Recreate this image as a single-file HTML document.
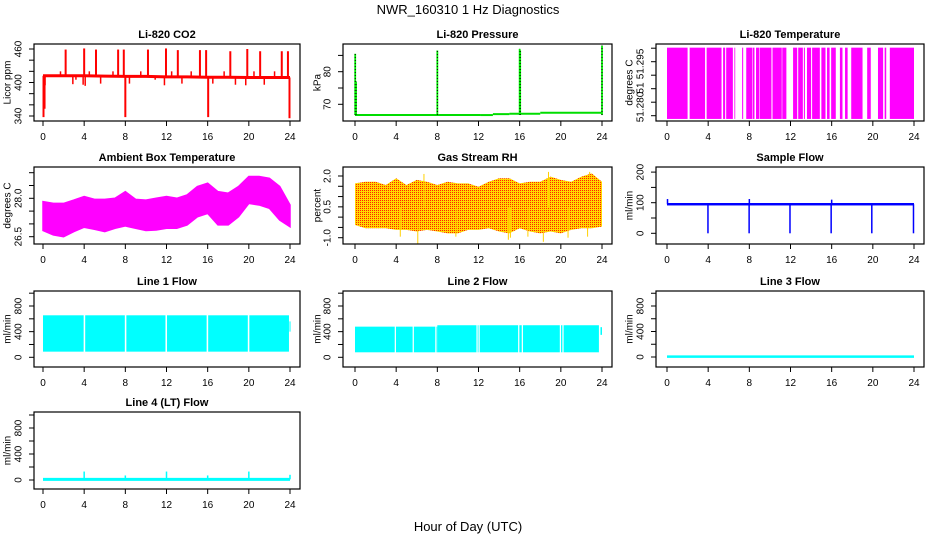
<!DOCTYPE html>
<html><head><meta charset="utf-8"><style>
html,body{margin:0;padding:0;background:#fff;}
svg{display:block;font-family:"Liberation Sans",Arial,sans-serif;}
</style></head><body>
<svg id="chart" width="936" height="540" viewBox="0 0 936 540" xmlns="http://www.w3.org/2000/svg">
<defs>
<pattern id="rhpat" width="2" height="2" patternUnits="userSpaceOnUse">
<rect width="2" height="2" fill="#ffd800"/><rect width="1" height="1" fill="#ff2000"/>
</pattern>
</defs>
<text x="468" y="14" text-anchor="middle" font-size="13">NWR_160310  1 Hz Diagnostics</text>
<text x="468" y="531" text-anchor="middle" font-size="13">Hour of Day (UTC)</text>
</svg>
<script>
// ---- data ----
const xTicks=[0,4,8,12,16,20,24];
const co2BaseHours=[0,2,4,6,8,10,12,14,16,18,20,22,24];
const co2BaseVals=[412,412,412,411.5,411,411,410,410,409.5,409.5,409,409,409];
const co2SpikeHours=[2.2,4.0,5.15,7.3,7.85,10.2,11.95,13.1,15.25,15.85,18.2,19.85,21.1,23.2,23.8,0.05,8.0,16.05,23.95,1.7,2.9,3.2,4.5,5.6,6.8,8.4,9.5,10.9,11.8,12.5,13.5,14.4,16.5,17.6,18.7,19.7,20.5,21.5,22.5,0.2,0.15,3.9,4.1];
const co2SpikeVals=[459,461,459,459,459,459,461,458,458,458,456,460,456,456,456,338,338,338,336,420,397,405,420,398,420,398,420,405,395,420,398,420,398,420,396,395,420,396,420,395,353,396,394];
const pressStepHours=[0,12.2,13.4,15,18,24];
const pressStepVals=[66.7,66.7,67.0,67.1,67.4];
const pressSpikeHours=[0.02,0.1,8.0,16.0,16.05,24.0];
const pressSpikeVals=[85.5,77,86.5,87,86.5,88];
const tempIntervals=[[0,2.0],[2.2,3.7],[3.85,5.3],[5.45,5.65],[5.75,6.4],[6.55,6.6],[7.3,7.4],[7.7,8.3],[8.35,8.5],[8.65,8.95],[9.0,10.15],[10.25,11.15],[11.2,11.6],[12.25,12.65],[12.75,13.2],[13.3,13.4],[13.6,14.0],[14.1,14.85],[15.0,15.4],[15.55,15.8],[15.95,16.4],[16.8,17.05],[17.3,17.55],[17.9,19.0],[19.45,19.8],[20.5,21.0],[21.15,21.3],[21.65,24.0]];
const tempLow=51.2791, tempHigh=51.2989;
const ambHours=[0,1,2,3,4,5,6,7,8,9,10,11,12,13,14,15,16,17,18,19,20,21,22,23,24];
const ambTop=[27.87,27.80,27.80,27.93,28.07,27.96,27.96,28.00,28.26,27.96,27.93,28.00,28.07,28.00,28.13,28.46,28.59,28.26,28.20,28.46,28.85,28.85,28.78,28.46,27.74];
const ambBot=[26.74,26.57,26.50,26.70,26.87,26.79,26.70,26.83,26.92,26.83,26.74,26.76,26.83,26.83,26.96,27.28,27.41,26.96,26.96,27.28,27.80,27.74,27.61,27.15,26.89];
const rhTop=[1.64,1.72,1.72,1.56,1.89,1.56,1.81,1.72,1.56,1.72,1.64,1.64,1.48,1.72,1.89,1.89,1.64,1.72,1.72,1.97,1.81,1.72,1.97,2.13,1.72];
const rhBot=[-0.38,-0.54,-0.54,-0.54,-0.62,-0.62,-0.70,-0.62,-0.70,-0.79,-0.79,-0.62,-0.62,-0.54,-0.70,-0.79,-0.54,-0.70,-0.79,-0.70,-0.79,-0.62,-0.54,-0.54,-0.46];
const rhSpikeHours=[6.1,4.4,14.9,18.3,20.7,22.6,15.1,16.8,9.8,18.8,22.8,6.7];
const rhSpikeVals=[-1.3,-0.95,-1.1,-1.2,-1.0,-0.95,-1.0,-0.95,-0.95,2.2,2.2,2.1];
const sfBandLow=91, sfBandHigh=99;
const sfSpikeHours=[3.98,7.98,11.95,15.95,19.9,23.95,0.05,8.0,16.0];
const sfSpikeVals=[0,0,0,0,0,0,112,112,110];
const l1Low=88, l1High=655;
const l1Gaps=[3.95,7.95,11.9,15.9,19.9];
const l2SegHours=[0,8,24];
const l2SegTop=[478,500];
const l2Low=78;
const l2Gaps=[3.86,5.6,7.8,11.8,12.0,15.85,16.2,19.9,20.15,23.7];
const l3Base=5;
const l4Base=10;
const l4SpikeHours=[4,8,12,16,20,24];
const l4SpikeVals=[130,70,130,70,130,80];

// ---- layout ----
const svg=document.getElementById('chart');
const NS='http://www.w3.org/2000/svg';
const cols=[{L:34,R:300,x0:43,x24:290,tl:19,yl:8},{L:343,R:612,x0:355,x24:602,tl:328,yl:318},{L:656,R:924,x0:667,x24:914,tl:641,yl:630}];
const rows=[{T:44,B:121},{T:167,B:244},{T:291,B:367},{T:412,B:489}];
function mk(tag,attrs,parent){const e=document.createElementNS(NS,tag);for(const k in attrs)e.setAttribute(k,attrs[k]);(parent||svg).appendChild(e);return e;}

function panel(name,c,r,title,ylab,v1,p1,v2,p2,yticks,ylabels){
  const col=cols[c],row=rows[r];
  const g=mk('g',{});
  
  
  const X=h=>col.x0+(h/24)*(col.x24-col.x0);
  const Y=v=>p1+(v-v1)*(p2-p1)/(v2-v1);
  const t=mk('text',{x:(col.L+col.R)/2,y:row.T-6,'text-anchor':'middle','font-size':11,'font-weight':'bold'},g);
  t.textContent=title;
  
  
  const yl=mk('text',{x:col.yl,y:(row.T+row.B)/2,'text-anchor':'middle','font-size':10,transform:`rotate(-90 ${col.yl} ${(row.T+row.B)/2})`,'dominant-baseline':'middle'},g);
  yl.textContent=ylab;
  
  
  const plot=mk('g',{},g);
  
  
  const cp='clip'+name;
  const cl=mk('clipPath',{id:cp},g);
  mk('rect',{x:col.L,y:row.T,width:col.R-col.L,height:row.B-row.T},cl);
  plot.setAttribute('clip-path',`url(#${cp})`);
  xTicks.forEach(h=>{
    const tk=mk('line',{x1:X(h),x2:X(h),y1:row.B,y2:row.B+5,stroke:'#000'},g);
    
    
    const tl=mk('text',{x:X(h),y:row.B+19,'text-anchor':'middle','font-size':10},g);
    tl.textContent=h;
    
    
  });
  yticks.forEach(v=>{
    const tk=mk('line',{x1:col.L-5,x2:col.L,y1:Y(v),y2:Y(v),stroke:'#000'},g);
    
    
  });
  ylabels.forEach(([v,s])=>{
    const yy=Y(v);
    const tl=mk('text',{x:col.tl,y:yy,'text-anchor':'middle','font-size':10,'dominant-baseline':'middle',transform:`rotate(-90 ${col.tl} ${yy})`},g);
    tl.textContent=s;
    
    
  });
  const box=mk('rect',{x:col.L,y:row.T,width:col.R-col.L,height:row.B-row.T,fill:'none',stroke:'#000','stroke-width':1.2},g);
  
  
  return {g:plot,X,Y};
}
function vline(p,h,a,b,color,w,nm){
  const l=mk('line',{x1:p.X(h),x2:p.X(h),y1:p.Y(a),y2:p.Y(b),stroke:color,'stroke-width':w},p.g);
  
  
  return l;
}
function band(p,h1,h2,lo,hi,color,nm){
  const r=mk('rect',{x:p.X(h1),y:p.Y(hi),width:Math.max(0.8,p.X(h2)-p.X(h1)),height:Math.abs(p.Y(lo)-p.Y(hi)),fill:color},p.g);
  
  
  return r;
}
function range(a,b,s){const o=[];for(let v=a;v<=b+1e-9;v+=s)o.push(+v.toFixed(6));return o;}

// 1 CO2
{const p=panel('co2',0,0,'Li-820 CO2','Licor ppm',340,116,460,49,range(340,460,20),[[340,'340'],[400,'400'],[460,'460']]);
 const interp=h=>{for(let i=0;i<co2BaseHours.length-1;i++){if(h<=co2BaseHours[i+1]){const t=(h-co2BaseHours[i])/(co2BaseHours[i+1]-co2BaseHours[i]);return co2BaseVals[i]+t*(co2BaseVals[i+1]-co2BaseVals[i]);}}return co2BaseVals[co2BaseVals.length-1];};
 co2SpikeHours.forEach((h,i)=>vline(p,h,interp(h),co2SpikeVals[i],'#ff0000',Math.abs(co2SpikeVals[i]-interp(h))>30?2:1.5,'co2-spike'));
 const pl=mk('polyline',{points:co2BaseHours.map((h,i)=>p.X(h)+','+p.Y(co2BaseVals[i])).join(' '),fill:'none',stroke:'#ff0000','stroke-width':3},p.g);
 
 }

// 2 Pressure
{const p=panel('pressure',1,0,'Li-820 Pressure','kPa',70,104.3,80,71.7,[70,75,80,85],[[70,'70'],[80,'80']]);
 pressStepVals.forEach((v,i)=>{const l=mk('line',{x1:p.X(pressStepHours[i]),x2:p.X(pressStepHours[i+1]),y1:p.Y(v),y2:p.Y(v),stroke:'#00dd00','stroke-width':2},p.g);
  
  });
 pressSpikeHours.forEach((h,i)=>{vline(p,h,66.7,pressSpikeVals[i],'#00ee00',1.8,'pressure-spike');
  const d=vline(p,h,66.7,pressSpikeVals[i],'#000',1,'pressure-spike-dots');d.setAttribute('stroke-dasharray','1 2');});}

// 3 Li-820 temperature
{const p=panel('li820-temp',2,0,'Li-820 Temperature','degrees C',51.28,115.7,51.295,61.7,range(51.28,51.29875,0.00375),[]);
 tempIntervals.forEach(([a,b])=>band(p,a,b,tempLow,tempHigh,'#ff00ff','temp-block'));
 [[51.28+(115.7-107)/54*0.015,'51.280'],[51.28+(115.7-88)/54*0.015,'51'],[51.28+(115.7-64)/54*0.015,'51.295']].forEach(([v,s])=>{
  const yy=p.Y(v);const tl=mk('text',{x:cols[2].tl,y:yy,'text-anchor':'middle','font-size':10,'dominant-baseline':'middle',transform:`rotate(-90 ${cols[2].tl} ${yy})`},svg);
  tl.textContent=s;
  
  });}

// 4 Ambient temp
{const p=panel('ambient-temp',0,1,'Ambient Box Temperature','degrees C',26.5,236.7,28.0,198.3,range(26.5,29.0,0.5),[[26.5,'26.5'],[28.0,'28.0']]);
 const pts=ambHours.map((h,i)=>p.X(h)+','+p.Y(ambTop[i])).concat(ambHours.slice().reverse().map((h,i)=>p.X(h)+','+p.Y(ambBot[ambHours.length-1-i])));
 const pg=mk('polygon',{points:pts.join(' '),fill:'#ff00ff',stroke:'#ff00ff','stroke-width':1.5},p.g);
 
 }

// 5 Gas RH
{const p=panel('gas-rh',1,1,'Gas Stream RH','percent',2.0,176,-1.0,237.7,range(-1.0,2.0,0.5),[[-1.0,'-1.0'],[0.5,'0.5'],[2.0,'2.0']]);
 const pts=ambHours.map((h,i)=>p.X(h)+','+p.Y(rhTop[i])).concat(ambHours.slice().reverse().map((h,i)=>p.X(h)+','+p.Y(rhBot[ambHours.length-1-i])));
 const pg=mk('polygon',{points:pts.join(' '),fill:'url(#rhpat)'},p.g);
 
 
 rhSpikeHours.forEach((h,i)=>vline(p,h,0.5,rhSpikeVals[i],'#ffd000',1,'gas-rh-spike'));}

// 6 Sample flow
{const p=panel('sample-flow',2,1,'Sample Flow','ml/min',0,233.3,100,202.7,[0,50,100,150,200],[[0,'0'],[100,'100'],[200,'200']]);
 band(p,0,24,sfBandLow,sfBandHigh,'#0000ff','sample-flow-band');
 sfSpikeHours.forEach((h,i)=>vline(p,h,95,sfSpikeVals[i],'#0000ff',1.5,'sample-flow-spike'));}

// 7 Line 1
const flowTicks=[0,200,400,600,800,1000], flowLabels=[[0,'0'],[400,'400'],[800,'800']];
{const p=panel('line1-flow',0,2,'Line 1 Flow','ml/min',0,357.3,800,306,flowTicks,flowLabels);
 band(p,0,23.9,l1Low,l1High,'#00ffff','line1-band');
 band(p,23.95,24.05,400,560,'#00ffff','line1-tail');
 l1Gaps.forEach(h=>band(p,h,h+0.15,l1Low-20,l1High+20,'#ffffff','line1-gap'));}

// 8 Line 2
{const p=panel('line2-flow',1,2,'Line 2 Flow','ml/min',0,357.3,800,306,flowTicks,flowLabels);
 l2SegTop.forEach((v,i)=>band(p,l2SegHours[i],Math.min(l2SegHours[i+1],23.8),l2Low,v,'#00ffff','line2-band'));
 band(p,23.85,24,350,470,'#00ffff','line2-tail');
 l2Gaps.forEach(h=>band(p,h,h+0.12,l2Low-10,530,'#ffffff','line2-gap'));}

// 9 Line 3
{const p=panel('line3-flow',2,2,'Line 3 Flow','ml/min',0,357,800,306,flowTicks,flowLabels);
 const l=mk('line',{x1:p.X(0),x2:p.X(24),y1:p.Y(l3Base),y2:p.Y(l3Base),stroke:'#00ffff','stroke-width':2.5},p.g);
 
 }

// 10 Line 4
{const p=panel('line4-flow',0,3,'Line 4 (LT) Flow','ml/min',0,480,800,428,flowTicks,flowLabels);
 const l=mk('line',{x1:p.X(0),x2:p.X(24),y1:p.Y(l4Base),y2:p.Y(l4Base),stroke:'#00ffff','stroke-width':3},p.g);
 
 
 l4SpikeHours.forEach((h,i)=>vline(p,h,l4Base,l4SpikeVals[i],'#00ffff',1.5,'line4-spike'));}
</script>
</body></html>
